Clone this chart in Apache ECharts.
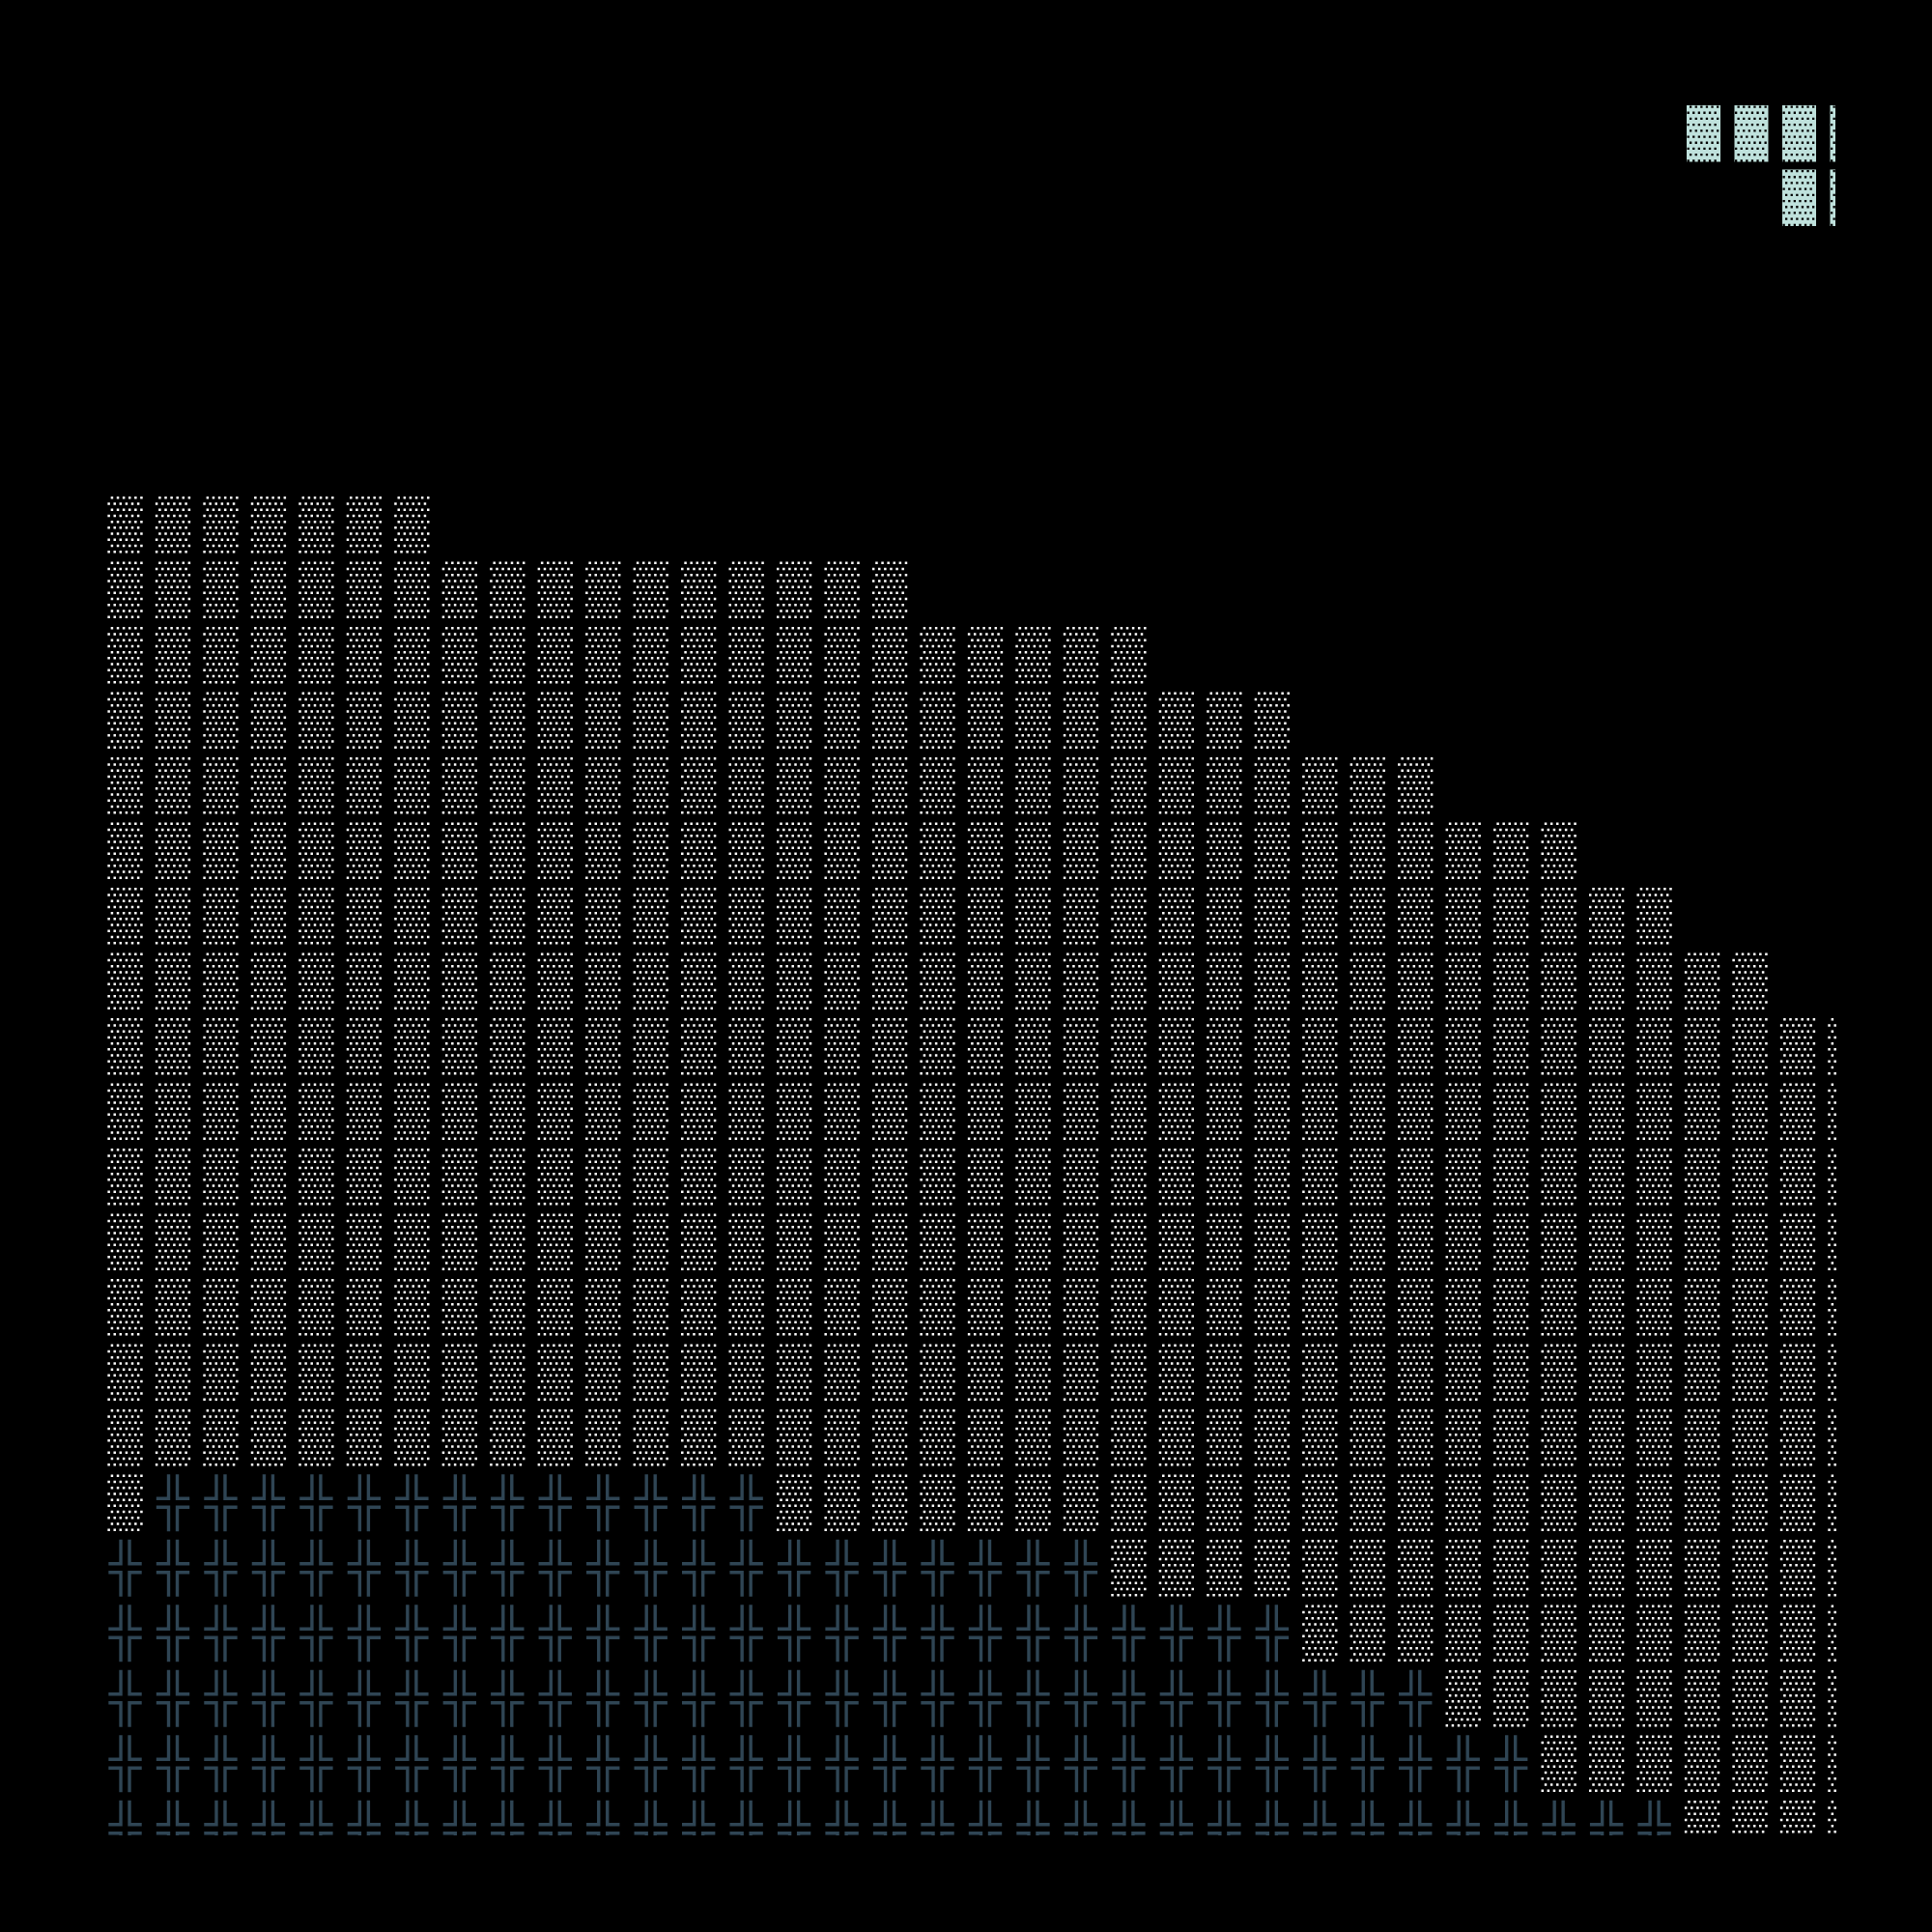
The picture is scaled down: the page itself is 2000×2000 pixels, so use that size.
<!DOCTYPE html>
<html lang="en" style="height: 100%;margin: 0;background-color: #000;">
<head>
    <meta charset="UTF-8">
    <title>chart</title>
</head>
<body style="height: 100%;margin: 0;background-color: #000;">
<div id="chart" style="width: 2000px;height: 2000px;margin: 0;"></div>
<script src="https://cdn.jsdelivr.net/npm/echarts@6/dist/echarts.min.js"></script>
<script>
    // one column per category, values = number of symbols
    var categories = ['1', '2', '3', '4', '5', '6', '7', '8', '9', '10', '11', '12', '13',
        '14', '15', '16', '17', '18', '19', '20', '21', '22', '23', '24', '25', '26',
        '27', '28', '29', '30', '31', '32', '33', '34', '35', '36', '37'];
    var plusCounts = [5, 6, 6, 6, 6, 6, 6, 6, 6, 6, 6, 6, 6, 6, 5, 5, 5, 5, 5, 5, 5,
        4, 4, 4, 4, 3, 3, 3, 2, 2, 1, 1, 1, 0, 0, 0, 0];
    // whole column height (plus symbols + dotted symbols)
    var totalCounts = [21, 21, 21, 21, 21, 21, 21, 20, 20, 20, 20, 20, 20, 20, 20, 20, 20,
        19, 19, 19, 19, 19, 18, 18, 18, 17, 17, 17, 16, 16, 16, 15, 15, 14, 14, 13, 13];
    var seriesNames = ['Dots', 'Plus'];
    var yRange = [0.4, 27];

    var myChart = echarts.init(document.getElementById("chart"), null, {renderer: 'canvas'});

    // small white squares, staggered rows
    function dotPath() {
        var s = '';
        for (var r = 0; r < 10; r++) {
            var y = r * 6.22;
            var off = r % 2 === 0 ? 3.3 : 0;
            for (var i = 0; i < 6; i++) {
                var x = off + i * 6.1;
                s += 'M' + x.toFixed(2) + ' ' + y.toFixed(2) + ' h2.5 v2.5 h-2.5 Z ';
            }
        }
        return s;
    }

    // plus split into four corner pieces
    function plusPath() {
        return 'M0 23.3 L11 23.3 L11 0 L14.4 0 L14.4 26.7 L0 26.7 Z ' +
            'M20 0 L23.4 0 L23.4 23.3 L34.4 23.3 L34.4 26.7 L20 26.7 Z ' +
            'M0 32.3 L14.4 32.3 L14.4 59 L11 59 L11 35.7 L0 35.7 Z ' +
            'M20 32.3 L34.4 32.3 L34.4 35.7 L23.4 35.7 L23.4 59 L20 59 Z';
    }

    // light block with square holes (holes wound the other way)
    function blockPath(x0, w) {
        var s = 'M' + x0 + ' 0 H' + (x0 + w) + ' V58.5 H' + x0 + ' Z ';
        for (var r = 0; r < 10; r++) {
            var y = 0.4 + r * 6.2;
            var off = r % 2 === 0 ? 3 : 0.5;
            for (var i = 0; i < 6; i++) {
                var hx = off + i * 5.6;
                if (hx + 2.3 <= w - 0.2) {
                    s += 'M' + (x0 + hx).toFixed(2) + ' ' + y.toFixed(2) + ' v2.3 h2.3 v-2.3 Z ';
                }
            }
        }
        return s;
    }

    function legendIcon(starts) {
        var s = 'M0 0 L0 58.5 ';
        for (var i = 0; i < starts.length; i++) {
            s += blockPath(starts[i], 35);
        }
        s += blockPath(148.5, 5.5);
        return 'path://' + s;
    }

    var repeatCommon = {
        type: 'pictorialBar',
        symbolRepeat: true,
        symbolBoundingData: yRange[1],
        symbolPosition: 'start',
        symbolOffset: [35.2, 0],
        clip: true,
        barGap: '-100%'
    };

    var option = {
        backgroundColor: '#000',
        animation: false,
        legend: {
            orient: 'vertical',
            right: 100,
            top: 109,
            padding: 0,
            itemGap: 8,
            itemWidth: 154,
            itemHeight: 58.5,
            align: 'right',
            selectedMode: false,
            formatter: function () {
                return '';
            },
            data: [
                {name: seriesNames[0], icon: legendIcon([0, 49.5, 99]), itemStyle: {color: '#bfe1dc', borderWidth: 0}},
                {name: seriesNames[1], icon: legendIcon([99]), itemStyle: {color: '#bfe1dc', borderWidth: 0}}
            ]
        },
        grid: {
            left: 69.6,
            right: 100,
            top: 104.5,
            bottom: 100
        },
        xAxis: {
            type: 'category',
            data: categories,
            show: false
        },
        yAxis: {
            type: 'value',
            min: yRange[0],
            max: yRange[1],
            show: false,
            splitLine: {show: false}
        },
        series: [
            echarts.util.extend({
                name: seriesNames[0],
                data: totalCounts,
                symbol: 'path://' + dotPath(),
                symbolSize: [36.3, 58.48],
                symbolMargin: '4.51!',
                z: 2,
                itemStyle: {color: '#ffffff'}
            }, repeatCommon),
            // black cells hide the dots under the plus symbols
            echarts.util.extend({
                name: 'mask',
                data: plusCounts,
                symbol: 'rect',
                symbolSize: [40, 61],
                symbolMargin: '3.25!',
                z: 3,
                silent: true,
                itemStyle: {color: '#000'}
            }, repeatCommon),
            echarts.util.extend({
                name: seriesNames[1],
                data: plusCounts,
                symbol: 'path://' + plusPath(),
                symbolSize: [34.4, 59],
                symbolMargin: '4.25!',
                z: 4,
                itemStyle: {color: '#2f4554'}
            }, repeatCommon)
        ]
    };
    myChart.setOption(option, true);
</script>
</body>
</html>
